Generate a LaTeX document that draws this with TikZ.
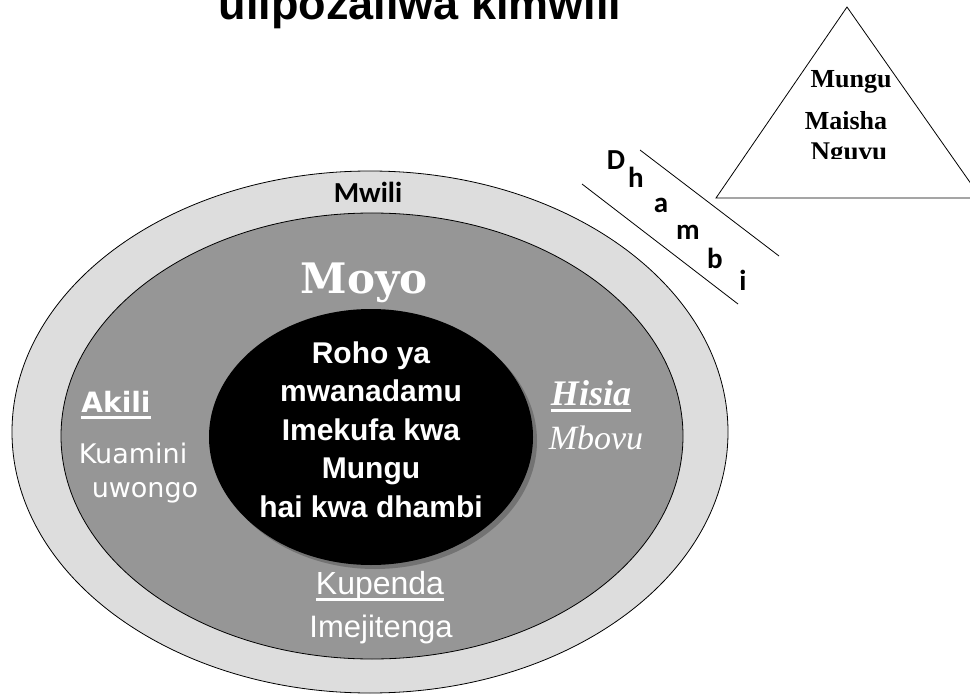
\documentclass[tikz,border=0pt]{standalone}
\usepackage{fontspec}
\setmainfont{Liberation Sans}
\newfontfamily\calibrifont{Carlito}
\newfontfamily\slabfont{DejaVu Serif}
\newfontfamily\romanfont{Liberation Serif}
\newfontfamily\roundfont{DejaVu Sans}
\definecolor{ringlight}{HTML}{DDDDDD}
\definecolor{ringdark}{HTML}{969696}
\newcommand{\undr}[1]{\setbox0=\hbox{#1}\rlap{\raisebox{-7pt}{\rule{\wd0}{3pt}}}\box0}
\newcommand{\fs}[1]{\fontsize{#1}{#1}\selectfont}

\begin{document}
\begin{tikzpicture}[x=1pt,y=-1pt,
  lbl/.style={inner sep=0pt,anchor=base,text=white},
  ring/.style={draw=black,line width=0.8pt},
  letter/.style={inner sep=0pt,anchor=base,font=\calibrifont\bfseries\fs{29}}]
\clip(0,0)rectangle(970,698);
\fill[white](0,0)rectangle(970,698);
\node[inner sep=0pt,anchor=base,font=\bfseries\fs{45}](title)at(420,20){ulipozaliwa kimwili};
% rings
\filldraw[ring,fill=ringlight](370,432)ellipse[x radius=358,y radius=261];
\filldraw[ring,fill=ringdark](372,436)ellipse[x radius=311,y radius=223];
\fill[black!55](375,441)ellipse[x radius=162,y radius=128];
\fill[black](371,437)ellipse[x radius=162,y radius=128];
\node[inner sep=0pt,anchor=base,font=\calibrifont\bfseries\fs{29}](mwili)at(368,203){Mwili};
\node[lbl,font=\slabfont\bfseries\fs{42}](moyo)at(364,293){Moyo};
\foreach\t[count=\i]in{Roho ya,mwanadamu,Imekufa kwa,Mungu,hai kwa dhambi}
  \node[lbl,font=\bfseries\fs{30}](roho\i)at(371,{363+38.5*(\i-1)}){\t};
\node[lbl,font=\roundfont\bfseries\fs{28}](akili)at(116,412){\undr{Akili}};
\node[lbl,font=\roundfont\fs{27}](kuamini)at(133,463){Kuamini};
\node[lbl,font=\roundfont\fs{27}](uwongo)at(145,497){uwongo};
\node[lbl,font=\romanfont\bfseries\itshape\fs{36}](hisia)at(591,405){\undr{Hisia}};
\node[lbl,font=\romanfont\itshape\fs{34}](mbovu)at(596,449){Mbovu};
\node[lbl,font=\fs{32}](kupenda)at(380,594){\undr{Kupenda}};
\node[lbl,font=\fs{31}](imejitenga)at(381,637){Imejitenga};
% triangle
\coordinate(apex)at(847,7);\coordinate(tl)at(716,198);\coordinate(tr)at(981,198);
\draw[line width=0.8pt](apex)--(tl)--(tr)--cycle;
\node[inner sep=0pt,anchor=base,font=\romanfont\bfseries\fs{26}](mungu)at(851,88){Mungu};
\node[inner sep=0pt,anchor=base,font=\romanfont\bfseries\fs{26}](maisha)at(846,130){Maisha};
\begin{scope}
\clip(700,0)rectangle(970,159);
\node[inner sep=0pt,anchor=base,font=\romanfont\bfseries\fs{27}](nguvu)at(849,161){Nguvu};
\end{scope}
% dhambi
\coordinate(d1a)at(640,150);\coordinate(d1b)at(779,256);
\coordinate(d2a)at(582,184);\coordinate(d2b)at(738,304);
\draw[line width=0.8pt](d1a)--(d1b);\draw[line width=0.8pt](d2a)--(d2b);
\foreach\c/\x/\y[count=\i]in{D/616/170,h/636/188,a/661/212,m/688/240,b/715/269,i/743/290}
  \node[letter](dh\i)at(\x,\y){\c};
\end{tikzpicture}
\end{document}
